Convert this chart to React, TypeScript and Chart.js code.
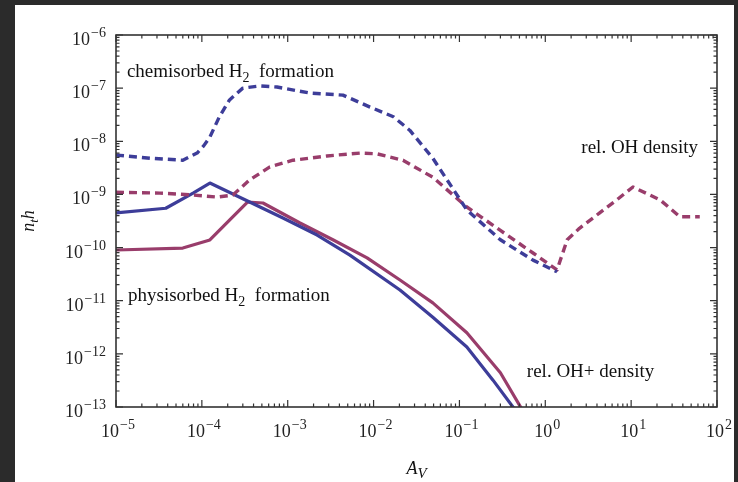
import React, { useEffect, useRef } from "react";
import { Chart, registerables } from "chart.js";

Chart.register(...registerables);

// ---- data (A_V vs. rates / relative densities) ----
const chemAv = [1e-5, 2.5e-5, 6.0e-5, 8.8e-5, 1.05e-4, 1.24e-4, 1.6e-4, 2.1e-4, 3.0e-4, 4.75e-4, 7.5e-4, 1.8e-3, 4.4e-3, 9.1e-3, 1.7e-2, 2.65e-2, 4.9e-2, 0.122, 0.3, 0.72, 1.37];
const chemRate = [5.5e-9, 4.8e-9, 4.4e-9, 6.0e-9, 8.2e-9, 1.2e-8, 2.9e-8, 6.0e-8, 1.0e-7, 1.1e-7, 1.05e-7, 8.1e-8, 7.4e-8, 4.4e-8, 2.9e-8, 1.6e-8, 4.8e-9, 5.1e-10, 1.4e-10, 5.8e-11, 3.5e-11];

const ohAv = [1e-5, 3.25e-5, 7.9e-5, 1.5e-4, 2.3e-4, 3.6e-4, 6.2e-4, 1.15e-3, 2.86e-3, 6.95e-3, 1.1e-2, 2.2e-2, 4.9e-2, 0.122, 0.3, 0.72, 1.37, 1.8, 2.5, 4.3, 6.8, 10.5, 21.7, 37, 63];
const ohDensity = [1.1e-9, 1.06e-9, 9.75e-10, 8.9e-10, 9.75e-10, 1.87e-9, 3.3e-9, 4.4e-9, 5.3e-9, 6.0e-9, 5.8e-9, 4.4e-9, 2.1e-9, 5.8e-10, 2.1e-10, 7.9e-11, 3.8e-11, 1.4e-10, 2.3e-10, 4.5e-10, 7.9e-10, 1.38e-9, 7.9e-10, 3.8e-10, 3.8e-10];

const physAv = [1e-5, 3.8e-5, 7.9e-5, 1.24e-4, 3.6e-4, 8.8e-4, 2.2e-3, 5.3e-3, 2.03e-2, 4.9e-2, 0.122, 0.246, 0.42, 0.47];
const physRate = [4.5e-10, 5.5e-10, 1.06e-9, 1.64e-9, 7.2e-10, 3.6e-10, 1.72e-10, 7.2e-11, 1.59e-11, 4.9e-12, 1.35e-12, 3.2e-13, 1.0e-13, 7.8e-14];

const ohPlusAv = [1e-5, 6e-5, 1.24e-4, 2.1e-4, 3.4e-4, 5.15e-4, 1.39e-3, 3.4e-3, 8.4e-3, 2.03e-2, 4.9e-2, 0.122, 0.3, 0.54];
const ohPlusDensity = [9.0e-11, 9.8e-11, 1.39e-10, 3.3e-10, 7.2e-10, 6.9e-10, 2.9e-10, 1.39e-10, 6.4e-11, 2.45e-11, 9.1e-12, 2.5e-12, 4.4e-13, 8.8e-14];

const xTickExponents = [-5, -4, -3, -2, -1, 0, 1, 2];
const yTickExponents = [-13, -12, -11, -10, -9, -8, -7, -6];

const BLUE = "rgb(61,61,153)";
const MAGENTA = "rgb(153,61,107)";
const SERIF = "'Liberation Serif', 'Times New Roman', serif";

const expText = (v: number) => {
  const e = Math.round(Math.log10(v));
  return e < 0 ? "\u2212" + String(-e) : String(e);
};

type Part = { t: string; size: number; dy?: number; italic?: boolean; gap?: number };
function drawRich(ctx: CanvasRenderingContext2D, parts: Part[], x: number, y: number, align: "left" | "right" | "center") {
  ctx.textBaseline = "alphabetic";
  ctx.textAlign = "left";
  let total = 0;
  const widths = parts.map((p) => {
    ctx.font = `${p.italic ? "italic " : ""}${p.size}px ${SERIF}`;
    const w = ctx.measureText(p.t).width + (p.gap ?? 0);
    total += w;
    return w;
  });
  let cx = align === "right" ? x - total : align === "center" ? x - total / 2 : x;
  parts.forEach((p, i) => {
    ctx.font = `${p.italic ? "italic " : ""}${p.size}px ${SERIF}`;
    ctx.fillText(p.t, cx + (p.gap ?? 0), y + (p.dy ?? 0));
    cx += widths[i];
  });
}

const powParts = (v: number): Part[] => [
  { t: "10", size: 18 },
  { t: expText(v), size: 14, dy: -8, gap: 1 },
];

const frameAndText = {
  id: "frameAndText",
  beforeDraw(chart: any) {
    const { ctx, width, height } = chart;
    ctx.save();
    ctx.fillStyle = "#2b2b2b";
    ctx.fillRect(0, 0, width, height);
    ctx.fillStyle = "#ffffff";
    ctx.fillRect(15, 5, 719, height - 5);
    ctx.restore();
  },
  afterDraw(chart: any) {
    const { ctx, chartArea: a } = chart;
    const xs = chart.scales.x;
    const ys = chart.scales.y;
    ctx.save();
    // frame
    ctx.strokeStyle = "#333";
    ctx.lineWidth = 1.6;
    ctx.strokeRect(a.left, a.top, a.right - a.left, a.bottom - a.top);
    // inward ticks
    ctx.lineWidth = 1.2;
    ctx.beginPath();
    const xMin = xTickExponents[0], xMax = xTickExponents[xTickExponents.length - 1];
    for (let e = xMin; e <= xMax; e++) {
      for (let k = 1; k <= 9; k++) {
        if (e === xMax && k > 1) break;
        const p = xs.getPixelForValue(k * Math.pow(10, e));
        const len = k === 1 ? 7 : 3.5;
        ctx.moveTo(p, a.bottom); ctx.lineTo(p, a.bottom - len);
        ctx.moveTo(p, a.top); ctx.lineTo(p, a.top + len);
      }
    }
    const yMin = yTickExponents[0], yMax = yTickExponents[yTickExponents.length - 1];
    for (let e = yMin; e <= yMax; e++) {
      for (let k = 1; k <= 9; k++) {
        if (e === yMax && k > 1) break;
        const p = ys.getPixelForValue(k * Math.pow(10, e));
        const len = k === 1 ? 7 : 3.5;
        ctx.moveTo(a.left, p); ctx.lineTo(a.left + len, p);
        ctx.moveTo(a.right, p); ctx.lineTo(a.right - len, p);
      }
    }
    ctx.stroke();

    // tick labels 10^n
    ctx.fillStyle = "#222";
    xTickExponents.forEach((e) => {
      const v = Math.pow(10, e);
      drawRich(ctx, powParts(v), xs.getPixelForValue(v) + 2, a.bottom + 30, "center");
    });
    yTickExponents.forEach((e) => {
      const v = Math.pow(10, e);
      drawRich(ctx, powParts(v), a.left - 10, ys.getPixelForValue(v) + 10, "right");
    });

    // curve labels
    ctx.fillStyle = "#111";
    const L = 19;
    drawRich(ctx, [
      { t: "chemisorbed H", size: L },
      { t: "2", size: 14, dy: 5 },
      { t: "  formation", size: L },
    ], xs.getPixelForValue(1.34e-5), ys.getPixelForValue(1.62e-7), "left");
    drawRich(ctx, [
      { t: "physisorbed H", size: L },
      { t: "2", size: 14, dy: 5 },
      { t: "  formation", size: L },
    ], xs.getPixelForValue(1.38e-5), ys.getPixelForValue(9.9e-12), "left");
    drawRich(ctx, [{ t: "rel. OH density", size: L }], xs.getPixelForValue(60), ys.getPixelForValue(6.0e-9), "right");
    drawRich(ctx, [{ t: "rel. OH+ density", size: L }], xs.getPixelForValue(0.61), ys.getPixelForValue(3.66e-13), "left");

    // axis titles
    drawRich(ctx, [
      { t: "A", size: 18, italic: true },
      { t: "V", size: 15, dy: 4, italic: true },
    ], (a.left + a.right) / 2, 474, "center");
    ctx.translate(34, (a.top + a.bottom) / 2);
    ctx.rotate(-Math.PI / 2);
    drawRich(ctx, [
      { t: "n", size: 18, italic: true },
      { t: "t", size: 13, dy: 4, italic: true },
      { t: "h", size: 18, italic: true },
    ], 0, 0, "center");
    ctx.restore();
  },
};

export default function App() {
  const ref = useRef<HTMLCanvasElement | null>(null);
  useEffect(() => {
    if (!ref.current) return;
    const mk = (xs: number[], ys: number[]) => xs.map((x, i) => ({ x, y: ys[i] }));
    const chart = new Chart(ref.current, {
      type: "line",
      data: {
        datasets: [
          { label: "chemisorbed H2 formation", data: mk(chemAv, chemRate), borderColor: BLUE, borderWidth: 3.4, borderDash: [8, 5], pointRadius: 0, fill: false },
          { label: "rel. OH density", data: mk(ohAv, ohDensity), borderColor: MAGENTA, borderWidth: 3.4, borderDash: [8, 5], pointRadius: 0, fill: false },
          { label: "physisorbed H2 formation", data: mk(physAv, physRate), borderColor: BLUE, borderWidth: 3.2, pointRadius: 0, fill: false },
          { label: "rel. OH+ density", data: mk(ohPlusAv, ohPlusDensity), borderColor: MAGENTA, borderWidth: 3.2, pointRadius: 0, fill: false },
        ],
      },
      options: {
        responsive: false,
        animation: false,
        layout: { padding: { top: 35, right: 21, left: 0, bottom: 0 } },
        plugins: { legend: { display: false }, tooltip: { enabled: false } },
        elements: { line: { borderJoinStyle: "round" } },
        scales: {
          x: {
            type: "logarithmic",
            min: 1e-5,
            max: 1e2,
            grid: { display: false },
            border: { display: false },
            afterFit: (s: any) => { s.height = 75; },
            afterBuildTicks: (s: any) => { s.ticks = xTickExponents.map((e) => ({ value: Math.pow(10, e) })); },
            ticks: { display: false },
          },
          y: {
            type: "logarithmic",
            min: 1e-13,
            max: 1e-6,
            grid: { display: false },
            border: { display: false },
            afterFit: (s: any) => { s.width = 116; },
            afterBuildTicks: (s: any) => { s.ticks = yTickExponents.map((e) => ({ value: Math.pow(10, e) })); },
            ticks: { display: false },
          },
        },
      },
      plugins: [frameAndText],
    });
    return () => chart.destroy();
  }, []);
  return (
    <div style={{ width: 738, height: 482, overflow: "hidden" }}>
      <style>{`body{margin:0;}`}</style>
      <canvas ref={ref} width={738} height={482} style={{ display: "block", width: 738, height: 482 }} />
    </div>
  );
}
